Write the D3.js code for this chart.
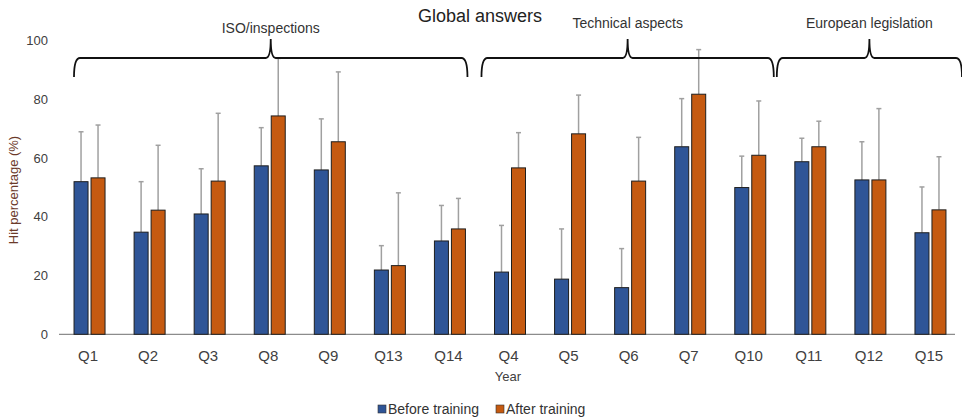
<!DOCTYPE html>
<html><head><meta charset="utf-8">
<script src="https://cdn.jsdelivr.net/npm/d3@7"></script>
<style>body{margin:0;background:#fff;font-family:"Liberation Sans",Arial,sans-serif;}</style>
</head><body><svg id="c" width="962" height="419"></svg>
<script>
const categories = ["Q1","Q2","Q3","Q8","Q9","Q13","Q14","Q4","Q5","Q6","Q7","Q10","Q11","Q12","Q15"];
const beforeValues = [52.0,34.8,41.0,57.4,56.0,21.9,31.8,21.2,18.8,15.9,63.9,50.0,58.8,52.6,34.6];
const afterValues  = [53.3,42.3,52.2,74.4,65.6,23.4,35.9,56.7,68.3,52.2,81.8,61.0,63.9,52.6,42.4];
const beforeUpper  = [69.0,52.0,56.4,70.4,73.4,30.2,43.9,37.1,35.9,29.2,80.3,60.7,66.8,65.6,50.2];
const afterUpper   = [71.3,64.4,75.3,94.0,89.4,48.2,46.3,68.7,81.5,67.1,97.0,79.5,72.6,76.9,60.5];
const yTicks = [0,20,40,60,80,100];
const groups = ["ISO/inspections","Technical aspects","European legislation"];
const groupFirst = ["Q1","Q4","Q11"];
const groupLast = ["Q14","Q10","Q15"];
const seriesNames = ["Before training","After training"];
const colors = ["#2f5597","#c55a11"];

const svg = d3.select("#c");
const x = d3.scaleBand().domain(categories).range([58,959]);
const y = d3.scaleLinear().domain([0,100]).range([334.3,40.8]);
const bw = 14, gap = 3;

// y tick labels
svg.append("g").selectAll("text").data(yTicks).join("text")
  .attr("x",48).attr("y",d=>y(d)).attr("dy","0.35em").attr("text-anchor","end")
  .attr("font-size",13).attr("fill","#404040").text(d=>d);

// x axis
const xAxis = svg.append("g").attr("transform","translate(0,334.3)")
  .call(d3.axisBottom(x).tickSize(0).tickPadding(16));
xAxis.select(".domain").attr("stroke","#8c8c8c").attr("stroke-width",1.3).attr("d","M59,0H955");
xAxis.selectAll("text").attr("font-size",15).attr("fill","#404040").attr("font-family","Liberation Sans, Arial, sans-serif");

const series = [beforeValues, afterValues];
const uppers = [beforeUpper, afterUpper];
const cx = (c,s)=> x(c)+x.bandwidth()/2 + (s===0 ? -(gap/2+bw/2) : (gap/2+bw/2)) + 1.5;

series.forEach((vals,s)=>{
  const g = svg.append("g");
  g.selectAll("line.err").data(categories).join("line")
    .attr("x1",(c)=>cx(c,s)).attr("x2",(c)=>cx(c,s))
    .attr("y1",(c,i)=>y(vals[i])).attr("y2",(c,i)=>y(uppers[s][i]))
    .attr("stroke","#a0a0a0").attr("stroke-width",1.5);
  g.selectAll("line.cap").data(categories).join("line")
    .attr("x1",(c)=>cx(c,s)-2.5).attr("x2",(c)=>cx(c,s)+2.5)
    .attr("y1",(c,i)=>y(uppers[s][i])).attr("y2",(c,i)=>y(uppers[s][i]))
    .attr("stroke","#a0a0a0").attr("stroke-width",1.5);
  g.selectAll("rect").data(categories).join("rect")
    .attr("x",c=>cx(c,s)-bw/2).attr("width",bw)
    .attr("y",(c,i)=>y(vals[i])).attr("height",(c,i)=>y(0)-y(vals[i]))
    .attr("fill",colors[s]).attr("stroke","#1e1e1e").attr("stroke-width",1);
});

// braces
const braceY = 58, braceEnd = 77, tipY = 39;
const padL = [16,3,-2], padR = [-11,-5,3];
groups.forEach((name,i)=>{
  const x0 = x(groupFirst[i]) + padL[i];
  const x1 = x(groupLast[i]) + x.bandwidth() + padR[i];
  const tip = (x0+x1)/2;
  const p = d3.path();
  p.moveTo(x0, braceEnd);
  p.quadraticCurveTo(x0, braceY, x0+6, braceY);
  p.lineTo(tip-5, braceY);
  p.quadraticCurveTo(tip, braceY, tip, tipY);
  p.quadraticCurveTo(tip, braceY, tip+5, braceY);
  p.lineTo(x1-6, braceY);
  p.quadraticCurveTo(x1, braceY, x1, braceEnd);
  svg.append("path").attr("d",p.toString()).attr("fill","none").attr("stroke","#111").attr("stroke-width",1.8);
  svg.append("text").attr("x",tip).attr("y",i===0?33:28).attr("text-anchor","middle")
    .attr("font-size",14).attr("fill","#333").text(name);
});

// title
svg.append("text").attr("x",480).attr("y",22).attr("text-anchor","middle")
  .attr("font-size",18).attr("fill","#222").text("Global answers");

// axis titles
svg.append("text").attr("x",508).attr("y",381).attr("text-anchor","middle")
  .attr("font-size",13).attr("fill","#404040").text("Year");
svg.append("text").attr("transform","translate(18,190) rotate(-90)").attr("text-anchor","middle")
  .attr("font-size",13).attr("fill","#6b3a2a").text("Hit percentage (%)");

// legend
const lx = [378,496];
seriesNames.forEach((n,i)=>{
  svg.append("rect").attr("x",lx[i]).attr("y",405).attr("width",8).attr("height",8)
    .attr("fill",colors[i]).attr("stroke","#333").attr("stroke-width",0.6);
  svg.append("text").attr("x",lx[i]+10).attr("y",413.5).attr("font-size",14).attr("fill","#333").text(n);
});
</script></body></html>
